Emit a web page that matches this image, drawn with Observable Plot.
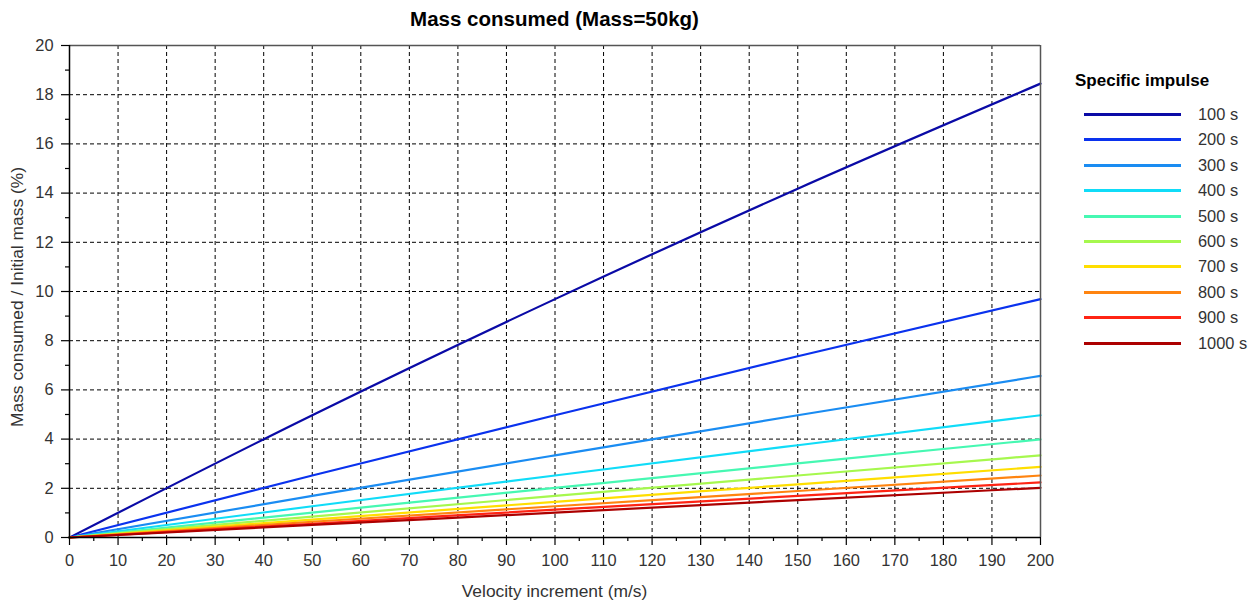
<!DOCTYPE html>
<html>
<head>
<meta charset="utf-8">
<script src="https://cdn.jsdelivr.net/npm/d3@7"></script>
<script src="https://cdn.jsdelivr.net/npm/@observablehq/plot@0.6"></script>
<style>
  body { margin: 0; background: #fff; }
  #wrap { position: relative; width: 1258px; height: 602px; font-family: "Liberation Sans", Arial, sans-serif; }
  #wrap svg { position: absolute; left: 0; top: 0; }
  .title { position: absolute; left: 69px; width: 971px; top: 7px; text-align: center; font-weight: bold; font-size: 20.5px; color: #000; }
  .xlabel { position: absolute; left: 69px; width: 971px; top: 581px; text-align: center; font-size: 17.4px; color: #333; }
  .ylabel { position: absolute; left: 17px; top: 297px; transform: translate(-50%, -50%) rotate(-90deg); white-space: nowrap; font-size: 17.4px; color: #333; }
  .legend { position: absolute; left: 1075px; top: 70px; width: 183px; }
  .legend .lt { font-weight: bold; font-size: 17px; color: #000; height: 22px; line-height: 22px; margin-bottom: 11px; white-space: nowrap; }
  .legend .row { position: relative; height: 25.4px; }
  .legend .sw { position: absolute; left: 9px; top: 10px; width: 97px; height: 0; border-top-width: 3px; border-top-style: solid; }
  .legend .lab { position: absolute; left: 123px; top: 0; font-size: 16.4px; line-height: 22px; color: #333; white-space: nowrap; }
</style>
</head>
<body>
<div id="wrap">
  <div class="title">Mass consumed (Mass=50kg)</div>
  <div class="xlabel">Velocity increment (m/s)</div>
  <div class="ylabel">Mass consumed / Initial mass (%)</div>
  <div class="legend" id="legend"></div>
</div>
<script>
// Velocity increment samples (m/s)
const velocity = [0, 50, 100, 150, 200];
// Specific impulse series (s)
const impulses = [100, 200, 300, 400, 500, 600, 700, 800, 900, 1000];
// Mass consumed / initial mass (%), per series
const isp100  = [0, 4.97, 9.69, 14.18, 18.45];
const isp200  = [0, 2.52, 4.97, 7.37, 9.69];
const isp300  = [0, 1.69, 3.34, 4.97, 6.57];
const isp400  = [0, 1.27, 2.52, 3.75, 4.97];
const isp500  = [0, 1.01, 2.02, 3.01, 3.99];
const isp600  = [0, 0.85, 1.69, 2.52, 3.34];
const isp700  = [0, 0.73, 1.45, 2.16, 2.87];
const isp800  = [0, 0.64, 1.27, 1.89, 2.52];
const isp900  = [0, 0.56, 1.13, 1.69, 2.24];
const isp1000 = [0, 0.51, 1.01, 1.52, 2.02];
const seriesValues = [isp100, isp200, isp300, isp400, isp500, isp600, isp700, isp800, isp900, isp1000];
const seriesColors = ["#0a0aa6", "#0a32ee", "#1a8cf2", "#10dcf8", "#46f8b2", "#a6f84e", "#ffde00", "#ff8410", "#ff2414", "#ac0000"];
const labels = impulses.map(d => `${d} s`);

const rows = [];
impulses.forEach((isp, i) => {
  velocity.forEach((v, j) => rows.push({series: labels[i], v, m: seriesValues[i][j]}));
});

const xMajor = d3.range(0, 201, 10);
const xMinor = d3.range(5, 200, 10);
const yMajor = d3.range(0, 21, 2);
const yMinor = d3.range(1, 20, 2);

const chart = Plot.plot({
  width: 1258,
  height: 602,
  marginLeft: 69,
  marginRight: 218,
  marginTop: 45,
  marginBottom: 65,
  style: {fontFamily: "Liberation Sans, Arial, sans-serif", fontSize: "16.4px", color: "#333", background: "transparent", overflow: "visible"},
  x: {domain: [0, 200]},
  y: {domain: [0, 20]},
  color: {domain: labels, range: seriesColors},
  marks: [
    Plot.gridX(xMajor.filter(d => d > 0 && d < 200), {stroke: "#000", strokeOpacity: 1, strokeWidth: 1, strokeDasharray: "4,3"}),
    Plot.gridY(yMajor.filter(d => d > 0 && d < 20), {stroke: "#000", strokeOpacity: 1, strokeWidth: 1, strokeDasharray: "4,3"}),
    Plot.line(rows, {x: "v", y: "m", z: "series", stroke: "series", strokeWidth: 2.2, curve: "monotone-x"}),
    Plot.ruleY([20], {stroke: "#555", strokeWidth: 1.5}),
    Plot.ruleX([200], {stroke: "#555", strokeWidth: 1.5}),
    Plot.ruleY([0], {stroke: "#000", strokeWidth: 1.5}),
    Plot.ruleX([0], {stroke: "#000", strokeWidth: 1.5}),
    Plot.axisX(xMajor, {tickSize: 8, tickPadding: 9, label: null, stroke: "#000", strokeWidth: 1.2}),
    Plot.axisX(xMinor, {tickSize: 4, tickFormat: () => "", label: null, stroke: "#000", strokeWidth: 1.2}),
    Plot.axisY(yMajor, {tickSize: 8, tickPadding: 8, label: null, stroke: "#000", strokeWidth: 1.2}),
    Plot.axisY(yMinor, {tickSize: 4, tickFormat: () => "", label: null, stroke: "#000", strokeWidth: 1.2})
  ]
});
document.getElementById("wrap").prepend(chart);

const legend = document.getElementById("legend");
const lt = document.createElement("div");
lt.className = "lt";
lt.textContent = "Specific impulse";
legend.appendChild(lt);
labels.forEach((lab, i) => {
  const row = document.createElement("div");
  row.className = "row";
  const sw = document.createElement("div");
  sw.className = "sw";
  sw.style.borderTopColor = seriesColors[i];
  const t = document.createElement("div");
  t.className = "lab";
  t.textContent = lab;
  row.appendChild(sw);
  row.appendChild(t);
  legend.appendChild(row);
});
</script>
</body>
</html>
